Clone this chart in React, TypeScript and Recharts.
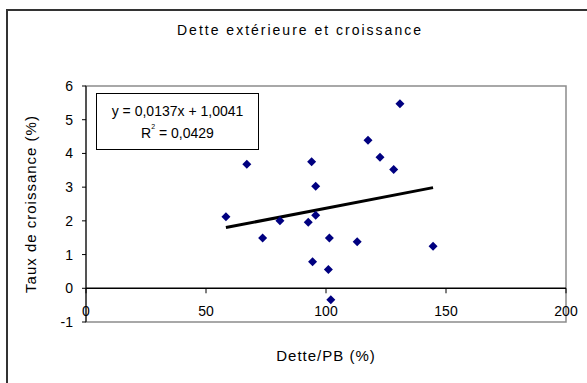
import React from "react";
import {
  ScatterChart,
  Scatter,
  XAxis,
  YAxis,
  ReferenceArea,
  ReferenceLine,
} from "recharts";

// Dette/PB (%) and Taux de croissance (%)
const detteX = [58.3, 67, 73.6, 80.8, 130.8, 117.5, 122.5, 128.2, 94, 95.7, 92.6, 95.7, 101.4, 113, 144.6, 94.4, 101, 102];
const croissanceY = [2.12, 3.68, 1.49, 2.0, 5.47, 4.39, 3.89, 3.52, 3.75, 3.03, 1.96, 2.17, 1.49, 1.38, 1.25, 0.79, 0.56, -0.34];

const xTicks = [0, 50, 100, 150, 200];
const yTicks = [-1, 0, 1, 2, 3, 4, 5, 6];

const slope = 0.0137;
const intercept = 1.0041;
const equationText = "y = 0,0137x + 1,0041";
const r2Value = "0,0429";

const title = "Dette extérieure et croissance";
const xLabel = "Dette/PB (%)";
const yLabel = "Taux de croissance (%)";

const points = detteX.map((x, i) => ({ x, y: croissanceY[i] }));
const xMin = Math.min(...detteX);
const xMax = Math.max(...detteX);

const W = 587;
const H = 383;
const margin = { top: 86, right: 21, bottom: 0, left: 0 };
const yAxisWidth = 86;
const xAxisHeight = 61;
const plotH = H - margin.top - margin.bottom - xAxisHeight;
const yMin = -1;
const yMax = 6;
const zeroOffset = (plotH * (0 - yMin)) / (yMax - yMin);

const FONT = "'Liberation Sans', Arial, sans-serif";

const Diamond = (props: any) => {
  const { cx, cy } = props;
  if (cx == null || cy == null) return null;
  const r = 4.5;
  return (
    <polygon
      points={`${cx},${cy - r} ${cx + r},${cy} ${cx},${cy + r} ${cx - r},${cy}`}
      fill="#000080"
    />
  );
};

const XTick = (props: any) => {
  const { x, y, payload } = props;
  const y0 = y - zeroOffset;
  return (
    <g>
      <line x1={x} x2={x} y1={y0} y2={y0 + 5} stroke="#000" strokeWidth={1} />
      <text
        x={x}
        y={y - 6}
        textAnchor="middle"
        fontSize={14}
        fontFamily={FONT}
        fill="#000"
      >
        {payload.value}
      </text>
    </g>
  );
};

export default function App() {
  return (
    <div
      style={{
        position: "absolute",
        left: 0,
        top: 0,
        width: W,
        height: H,
        overflow: "hidden",
        background: "#fff",
      }}
    >
      <div
        style={{
          position: "absolute",
          left: 6,
          top: 9,
          width: 700,
          height: 500,
          borderLeft: "2px solid #333",
          borderTop: "2px solid #333",
        }}
      />
      <div
        style={{
          position: "absolute",
          left: 0,
          width: 600,
          top: 22,
          textAlign: "center",
          fontFamily: FONT,
          fontSize: 14,
          letterSpacing: 2,
          color: "#000",
        }}
      >
        {title}
      </div>
      <div style={{ position: "absolute", left: 0, top: 0 }}>
        <ScatterChart width={W} height={H} margin={margin}>
          <ReferenceArea
            x1={0}
            x2={200}
            y1={-1}
            y2={6}
            fill="none"
            stroke="#8c8c8c"
            strokeWidth={1.5}
            ifOverflow="visible"
          />
          <XAxis
            type="number"
            dataKey="x"
            domain={[0, 200]}
            ticks={xTicks}
            axisLine={false}
            tickLine={false}
            tickSize={0}
            tickMargin={0}
            height={xAxisHeight}
            tick={<XTick />}
            interval={0}
            label={{
              value: xLabel,
              position: "insideBottom",
              offset: 22,
              fontSize: 15,
              fontFamily: FONT,
              fill: "#000",
              letterSpacing: 1,
            }}
          />
          <YAxis
            type="number"
            dataKey="y"
            domain={[yMin, yMax]}
            ticks={yTicks}
            width={yAxisWidth}
            axisLine={{ stroke: "#000" }}
            tickLine={{ stroke: "#000" }}
            tickSize={4}
            tickMargin={9}
            interval={0}
            tick={{ fontSize: 14, fontFamily: FONT, fill: "#000" }}
            label={{
              value: yLabel,
              angle: -90,
              position: "insideLeft",
              offset: 31,
              fontSize: 15,
              fontFamily: FONT,
              fill: "#000",
              letterSpacing: 1,
              style: { textAnchor: "middle" },
            }}
          />
          <ReferenceLine y={0} stroke="#000" strokeWidth={1.5} />
          <ReferenceLine
            segment={[
              { x: xMin, y: slope * xMin + intercept },
              { x: xMax, y: slope * xMax + intercept },
            ]}
            stroke="#000"
            strokeWidth={3}
          />
          <Scatter data={points} shape={<Diamond />} isAnimationActive={false} />
        </ScatterChart>
      </div>
      <div
        style={{
          position: "absolute",
          left: 96,
          top: 93,
          width: 163,
          height: 57,
          border: "1px solid #000",
          fontFamily: FONT,
          fontSize: 14,
          color: "#000",
          textAlign: "center",
          lineHeight: "22px",
          paddingTop: 6,
          boxSizing: "border-box",
          background: "#fff",
        }}
      >
        <div>{equationText}</div>
        <div>
          R<sup style={{ fontSize: 7, verticalAlign: "top", lineHeight: "10px" }}>2</sup> = {r2Value}
        </div>
      </div>
    </div>
  );
}
